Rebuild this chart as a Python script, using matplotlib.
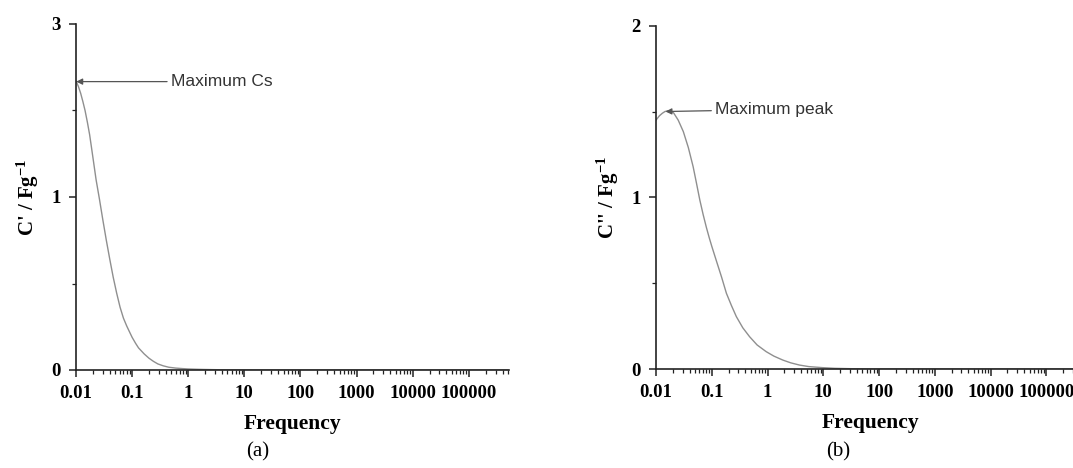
import matplotlib
matplotlib.use('Agg')
import matplotlib.pyplot as plt
import numpy as np

plt.rcParams['font.family'] = ['Liberation Serif', 'DejaVu Serif']
plt.rcParams['mathtext.fontset'] = 'custom'
plt.rcParams['mathtext.rm'] = 'Liberation Serif'
plt.rcParams['mathtext.bf'] = 'Liberation Serif:bold'

# C' (panel a)
freq_a = [0.01, 0.011, 0.0121, 0.0133, 0.0145, 0.016, 0.0175, 0.019, 0.0204, 0.0228,
          0.0261, 0.03, 0.0347, 0.04, 0.046, 0.053, 0.061, 0.07, 0.08, 0.09, 0.1,
          0.115, 0.13, 0.164, 0.2, 0.24, 0.288, 0.36, 0.45, 0.6, 0.8, 1.0, 1.5, 2.0,
          3.5, 6.0, 20.0, 100.0, 1e3, 1e4, 1e5, 5e5]
cp_a = [1.67, 1.64, 1.60, 1.55, 1.50, 1.43, 1.36, 1.28, 1.21, 1.10,
        0.99, 0.87, 0.75, 0.64, 0.537, 0.445, 0.363, 0.30, 0.255, 0.22, 0.189,
        0.155, 0.128, 0.093, 0.068, 0.05, 0.035, 0.024, 0.016, 0.011, 0.008, 0.006, 0.004, 0.003,
        0.0015, 0.0008, 0.0, 0.0, 0.0, 0.0, 0.0, 0.0]

# C'' (panel b)
freq_b = [0.01, 0.0115, 0.013, 0.0145, 0.0166, 0.0185, 0.0205, 0.025, 0.0309, 0.038,
          0.0463, 0.053, 0.061, 0.07, 0.08, 0.09, 0.1, 0.121, 0.15, 0.183, 0.225, 0.276,
          0.36, 0.477, 0.65, 0.946, 1.3, 1.88, 2.6, 3.73, 5.5, 9.6, 16.0, 29.0, 60.0,
          100.0, 1e3, 1e4, 1e5, 5e5]
cpp_b = [1.45, 1.475, 1.49, 1.50, 1.505, 1.50, 1.494, 1.45, 1.383, 1.29,
         1.179, 1.085, 0.985, 0.90, 0.825, 0.765, 0.715, 0.63, 0.535, 0.441, 0.37, 0.305,
         0.24, 0.188, 0.14, 0.101, 0.075, 0.052, 0.036, 0.023, 0.014, 0.008, 0.004, 0.002, 0.0005,
         0.0, 0.0, 0.0, 0.0, 0.0]

xticks = [0.01, 0.1, 1, 10, 100, 1000, 10000, 100000]
xticklabels = ['0.01', '0.1', '1', '10', '100', '1000', '10000', '100000']
yticks = [0, 1, 2]
yticklabels_a = ['0', '1', '3']
yticklabels_b = ['0', '1', '2']

W, H = 1073, 468
fig = plt.figure(figsize=(W / 100, H / 100), dpi=100)

# axes boxes in pixels
ax_a = fig.add_axes([76 / W, 1 - 370 / H, 432.6 / W, 346 / H])
ax_b = fig.add_axes([656 / W, 1 - 369 / H, 430 / W, 343.3 / H])


def style(ax, x, y, ylabels, ylab, ax_w, ax_h):
    ax.plot(x, y, color='#8f8f8f', lw=1.0)
    ax.set_xscale('log')
    ax.set_xlim(0.01, 10 ** 5.71)
    ax.set_ylim(0, 2)
    ax.spines['top'].set_visible(False)
    ax.spines['right'].set_visible(False)
    for s in ['left', 'bottom']:
        ax.spines[s].set_linewidth(1.2)
        ax.spines[s].set_color('#222222')
    ax.set_xticks(xticks)
    ax.set_xticklabels(xticklabels, fontsize=13.5, fontweight='bold')
    ax.xaxis.set_minor_locator(matplotlib.ticker.LogLocator(base=10, subs=np.arange(2, 10), numticks=20))
    ax.xaxis.set_minor_formatter(matplotlib.ticker.NullFormatter())
    ax.set_yticks(yticks)
    ax.set_yticklabels(ylabels, fontsize=13.5, fontweight='bold')
    ax.set_yticks([0.5, 1.5], minor=True)
    ax.tick_params(which='major', direction='out', length=5, width=1.1, color='#222222', pad=6)
    ax.tick_params(which='minor', direction='out', length=3, width=0.9, color='#222222')
    ax.set_xlabel('Frequency', fontsize=15.5, fontweight='bold', va='center')
    ax.xaxis.set_label_coords(0.5, -54 / ax_h)
    ax.set_ylabel(ylab, fontsize=15, fontweight='bold', va='center')
    ax.yaxis.set_label_coords(-48 / ax_w, 0.5)


style(ax_a, freq_a, cp_a, yticklabels_a, r"C' / Fg$\mathbf{^{-1}}$", 432.6, 346)
style(ax_b, freq_b, cpp_b, yticklabels_b, r"C'' / Fg$\mathbf{^{-1}}$", 430, 343.3)

arrow = dict(arrowstyle='-|>', color='#555555', lw=0.9, shrinkA=1, shrinkB=0, mutation_scale=9)
ax_a.annotate('Maximum Cs', xy=(0.0101, 1.667), xytext=(95, 0), textcoords='offset pixels',
              ha='left', va='center', fontsize=12.5, color='#333333',
              family=['Liberation Sans', 'DejaVu Sans'], arrowprops=arrow)
ax_b.annotate('Maximum peak', xy=(0.0148, 1.50), xytext=(50, 2), textcoords='offset pixels',
              ha='left', va='center', fontsize=12.5, color='#333333',
              family=['Liberation Sans', 'DejaVu Sans'], arrowprops=arrow)

fig.text(258 / W, 1 - 452 / H, '(a)', ha='center', va='center', fontsize=15)
fig.text(838 / W, 1 - 452 / H, '(b)', ha='center', va='center', fontsize=15)

fig.savefig('out.png', dpi=100)
